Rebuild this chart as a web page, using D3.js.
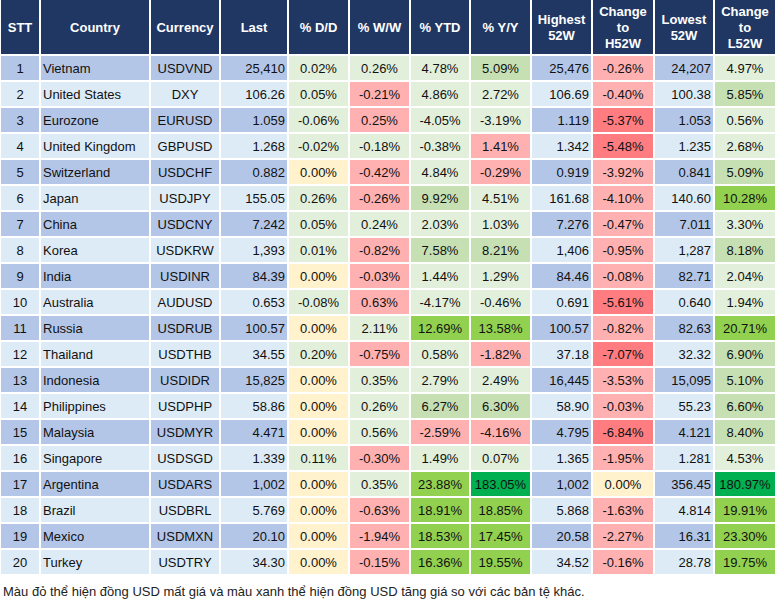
<!DOCTYPE html>
<html>
<head>
<meta charset="utf-8">
<script src="https://cdn.jsdelivr.net/npm/d3@7"></script>
<style>
  html, body { margin: 0; padding: 0; background: #ffffff; }
  svg { display: block; }
</style>
</head>
<body>
<svg id="chart" width="777" height="602"></svg>
<script>
// ---------------- DATA ----------------
const headers = [["STT"], ["Country"], ["Currency"], ["Last"], ["% D/D"], ["% W/W"], ["% YTD"], ["% Y/Y"],
  ["Highest", "52W"], ["Change", "to", "H52W"], ["Lowest", "52W"], ["Change", "to", "L52W"]];

const countries = ["Vietnam", "United States", "Eurozone", "United Kingdom", "Switzerland", "Japan", "China", "Korea",
  "India", "Australia", "Russia", "Thailand", "Indonesia", "Philippines", "Malaysia", "Singapore", "Argentina",
  "Brazil", "Mexico", "Turkey"];
const currencies = ["USDVND", "DXY", "EURUSD", "GBPUSD", "USDCHF", "USDJPY", "USDCNY", "USDKRW", "USDINR", "AUDUSD",
  "USDRUB", "USDTHB", "USDIDR", "USDPHP", "USDMYR", "USDSGD", "USDARS", "USDBRL", "USDMXN", "USDTRY"];
const lastPrice = ["25,410", "106.26", "1.059", "1.268", "0.882", "155.05", "7.242", "1,393", "84.39", "0.653",
  "100.57", "34.55", "15,825", "58.86", "4.471", "1.339", "1,002", "5.769", "20.10", "34.30"];
const pctDD = [0.02, 0.05, -0.06, -0.02, 0.00, 0.26, 0.05, 0.01, 0.00, -0.08, 0.00, 0.20, 0.00, 0.00, 0.00, 0.11, 0.00, 0.00, 0.00, 0.00];
const pctWW = [0.26, -0.21, 0.25, -0.18, -0.42, -0.26, 0.24, -0.82, -0.03, 0.63, 2.11, -0.75, 0.35, 0.26, 0.56, -0.30, 0.35, -0.63, -1.94, -0.15];
const pctYTD = [4.78, 4.86, -4.05, -0.38, 4.84, 9.92, 2.03, 7.58, 1.44, -4.17, 12.69, 0.58, 2.79, 6.27, -2.59, 1.49, 23.88, 18.91, 18.53, 16.36];
const pctYY = [5.09, 2.72, -3.19, 1.41, -0.29, 4.51, 1.03, 8.21, 1.29, -0.46, 13.58, -1.82, 2.49, 6.30, -4.16, 0.07, 183.05, 18.85, 17.45, 19.55];
const high52 = ["25,476", "106.69", "1.119", "1.342", "0.919", "161.68", "7.276", "1,406", "84.46", "0.691",
  "100.57", "37.18", "16,445", "58.90", "4.795", "1.365", "1,002", "5.868", "20.58", "34.52"];
const chgH52 = [-0.26, -0.40, -5.37, -5.48, -3.92, -4.10, -0.47, -0.95, -0.08, -5.61, -0.82, -7.07, -3.53, -0.03, -6.84, -1.95, 0.00, -1.63, -2.27, -0.16];
const low52 = ["24,207", "100.38", "1.053", "1.235", "0.841", "140.60", "7.011", "1,287", "82.71", "0.640",
  "82.63", "32.32", "15,095", "55.23", "4.121", "1.281", "356.45", "4.814", "16.31", "28.78"];
const chgL52 = [4.97, 5.85, 0.56, 2.68, 5.09, 10.28, 3.30, 8.18, 2.04, 1.94, 20.71, 6.90, 5.10, 6.60, 8.40, 4.53, 180.97, 19.91, 23.30, 19.75];

// colour classes (g1..g4 greens, y neutral, r1..r2 reds)
const clsDD = ["g1","g1","g1","g1","y","g1","g1","g1","y","g1","y","g1","y","y","y","g1","y","y","y","y"];
const clsWW = ["g1","r1","r1","g1","r1","r1","g1","r1","r1","r1","g1","r1","g1","g1","g1","r1","g1","r1","r1","r1"];
const clsYTD = ["g1","g1","g1","g1","g1","g2","g1","g2","g1","g1","g3","g1","g1","g2","r1","g1","g3","g3","g3","g3"];
const clsYY = ["g2","g1","g1","r1","r1","g1","g1","g2","g1","g1","g3","r1","g1","g2","r1","g1","g4","g3","g3","g3"];
const clsH52 = ["r1","r1","r2","r2","r1","r1","r1","r1","r1","r2","r1","r2","r1","r1","r2","r1","y","r1","r1","r1"];
const clsL52 = ["g1","g2","g1","g1","g2","g3","g1","g2","g1","g1","g3","g2","g2","g2","g2","g1","g4","g3","g3","g3"];

const footnote = "Màu đỏ thể hiện đồng USD mất giá và màu xanh thể hiện đồng USD tăng giá so với các bản tệ khác.";

// ---------------- LAYOUT ----------------
const colEdges = [0, 40, 150, 220, 288, 349, 410, 470, 531, 592, 654, 714, 776];
const headerH = 55;
const tableBottom = 575;
const gap = 1;

const palette = d3.scaleOrdinal()
  .domain(["head", "s1", "s2", "g1", "g2", "g3", "g4", "y", "r1", "r2"])
  .range(["#203764", "#B4C6E7", "#DDEBF7", "#E2EFDA", "#C6E0B4", "#92D050", "#00B050", "#FFF2CC", "#FFB1B1", "#FF7C80"]);

// hyphen-minus like the reference, not the unicode minus
const locale = d3.formatLocale({ decimal: ".", thousands: ",", grouping: [3], currency: ["", ""], minus: "-" });
const fmtPct = v => locale.format(".2f")(v) + "%";

const svg = d3.select("#chart");
const FONT = "'Liberation Sans', Arial, sans-serif";

const rows = d3.scaleBand().domain(d3.range(countries.length)).range([headerH, tableBottom]);

const stripe = i => (i % 2 === 0 ? "s1" : "s2");
const columns = [
  { text: i => String(i + 1), cls: stripe, align: "middle" },
  { text: i => countries[i], cls: stripe, align: "start" },
  { text: i => currencies[i], cls: stripe, align: "middle" },
  { text: i => lastPrice[i], cls: stripe, align: "end" },
  { text: i => fmtPct(pctDD[i]), cls: i => clsDD[i], align: "middle" },
  { text: i => fmtPct(pctWW[i]), cls: i => clsWW[i], align: "middle" },
  { text: i => fmtPct(pctYTD[i]), cls: i => clsYTD[i], align: "middle" },
  { text: i => fmtPct(pctYY[i]), cls: i => clsYY[i], align: "middle" },
  { text: i => high52[i], cls: stripe, align: "end" },
  { text: i => fmtPct(chgH52[i]), cls: i => clsH52[i], align: "middle" },
  { text: i => low52[i], cls: stripe, align: "end" },
  { text: i => fmtPct(chgL52[i]), cls: i => clsL52[i], align: "middle" }
];

// ---- header ----
const head = svg.append("g");
headers.forEach((lines, c) => {
  const x0 = colEdges[c] + gap, x1 = colEdges[c + 1] - gap;
  head.append("rect")
    .attr("x", x0).attr("y", 0)
    .attr("width", x1 - x0).attr("height", headerH - gap)
    .attr("fill", palette("head"));
  const lh = 16;
  const cy = (headerH - gap) / 2;
  const startY = cy - (lines.length - 1) * lh / 2;
  lines.forEach((ln, k) => {
    head.append("text")
      .attr("x", (x0 + x1) / 2)
      .attr("y", startY + k * lh)
      .attr("dy", "0.36em")
      .attr("text-anchor", "middle")
      .attr("font-family", FONT)
      .attr("font-size", 13)
      .attr("font-weight", "bold")
      .attr("fill", "#ffffff")
      .text(ln);
  });
});

// ---- body ----
const body = svg.append("g");
d3.range(countries.length).forEach(i => {
  const y0 = rows(i) + gap, y1 = rows(i) + rows.bandwidth() - gap;
  columns.forEach((col, c) => {
    const x0 = colEdges[c] + gap, x1 = colEdges[c + 1] - gap;
    body.append("rect")
      .attr("x", x0).attr("y", y0)
      .attr("width", x1 - x0).attr("height", y1 - y0)
      .attr("fill", palette(col.cls(i)));
    let tx;
    if (col.align === "start") tx = x0 + 2;
    else if (col.align === "end") tx = x1 - 2;
    else tx = (x0 + x1) / 2;
    body.append("text")
      .attr("x", tx)
      .attr("y", (y0 + y1) / 2)
      .attr("dy", "0.36em")
      .attr("text-anchor", col.align)
      .attr("font-family", FONT)
      .attr("font-size", 13)
      .attr("fill", "#111111")
      .text(col.text(i));
  });
});

// ---- footnote ----
svg.append("text")
  .attr("x", 3)
  .attr("y", 591)
  .attr("dy", "0.36em")
  .attr("font-family", FONT)
  .attr("font-size", 13)
  .attr("fill", "#222222")
  .text(footnote);
</script>
</body>
</html>
